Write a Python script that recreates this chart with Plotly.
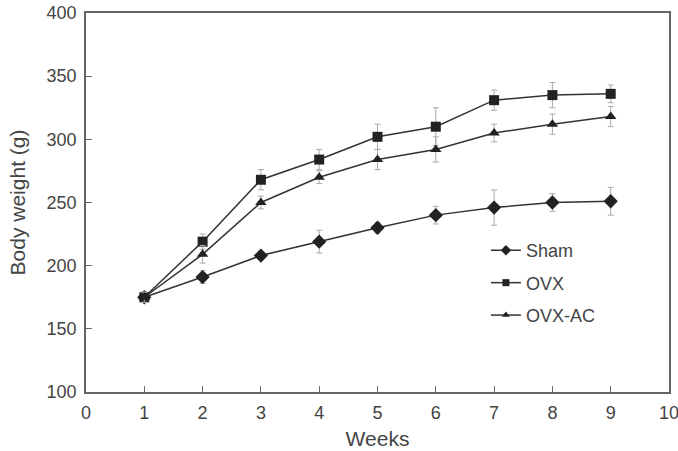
import plotly.graph_objects as go

weeks = [1, 2, 3, 4, 5, 6, 7, 8, 9]
sham = [175, 191, 208, 219, 230, 240, 246, 250, 251]
sham_err = [4, 5, 3, 9, 4, 7, 14, 7, 11]
ovx = [175, 219, 268, 284, 302, 310, 331, 335, 336]
ovx_err = [4, 6, 8, 8, 10, 15, 8, 10, 7]
ovxac = [175, 209, 250, 270, 284, 292, 305, 312, 318]
ovxac_err = [4, 7, 5, 5, 8, 10, 7, 8, 8]

series = [
    ("Sham", sham, sham_err, "diamond", 11, 8),
    ("OVX", ovx, ovx_err, "square", 10, 7),
    ("OVX-AC", ovxac, ovxac_err, "triangle-up", 10, 7),
]

FONT = "Liberation Sans, Arial, sans-serif"

fig = go.Figure()
for name, vals, errs, sym, sz, lsz in series:
    fig.add_trace(go.Scatter(
        x=weeks, y=vals, name=name, mode="lines+markers", showlegend=False,
        line=dict(color="#333333", width=1.5),
        marker=dict(symbol=sym, size=sz, color="#222222"),
        error_y=dict(type="data", array=errs, visible=True,
                     color="#aaaaaa", thickness=1, width=3),
    ))
    # legend-only entry with smaller symbol, as in the reference legend
    fig.add_trace(go.Scatter(
        x=[None], y=[None], name=name, mode="lines+markers",
        legendgroup=name, showlegend=True,
        line=dict(color="#333333", width=1.5),
        marker=dict(symbol=sym, size=lsz, color="#222222"),
    ))

axis_common = dict(
    showline=True, linecolor="#666666", linewidth=1.5, mirror=True,
    ticks="inside", ticklen=6, tickcolor="#666666", tickwidth=1.2,
    showgrid=False, zeroline=False, automargin=False,
    ticklabeloverflow="allow",
    tickfont=dict(family=FONT, size=18, color="#444444"),
)

fig.update_layout(
    width=678, height=451,
    margin=dict(l=86, r=9, t=13, b=59),
    paper_bgcolor="white", plot_bgcolor="white",
    font=dict(family=FONT, color="#444444"),
    xaxis=dict(range=[0, 10], dtick=1, tick0=0, ticklabelstandoff=4,
               title=dict(text="Weeks", font=dict(size=21), standoff=9),
               **axis_common),
    yaxis=dict(range=[100, 400], dtick=50, tick0=100, ticklabelstandoff=4,
               title=dict(text="Body weight (g)", font=dict(size=21), standoff=15),
               **axis_common),
    legend=dict(x=0.686, y=0.422, xanchor="left", yanchor="top",
                bgcolor="rgba(0,0,0,0)", font=dict(size=18, color="#444444"),
                itemwidth=30, traceorder="grouped", tracegroupgap=6),
)

fig.write_html("out.html")
